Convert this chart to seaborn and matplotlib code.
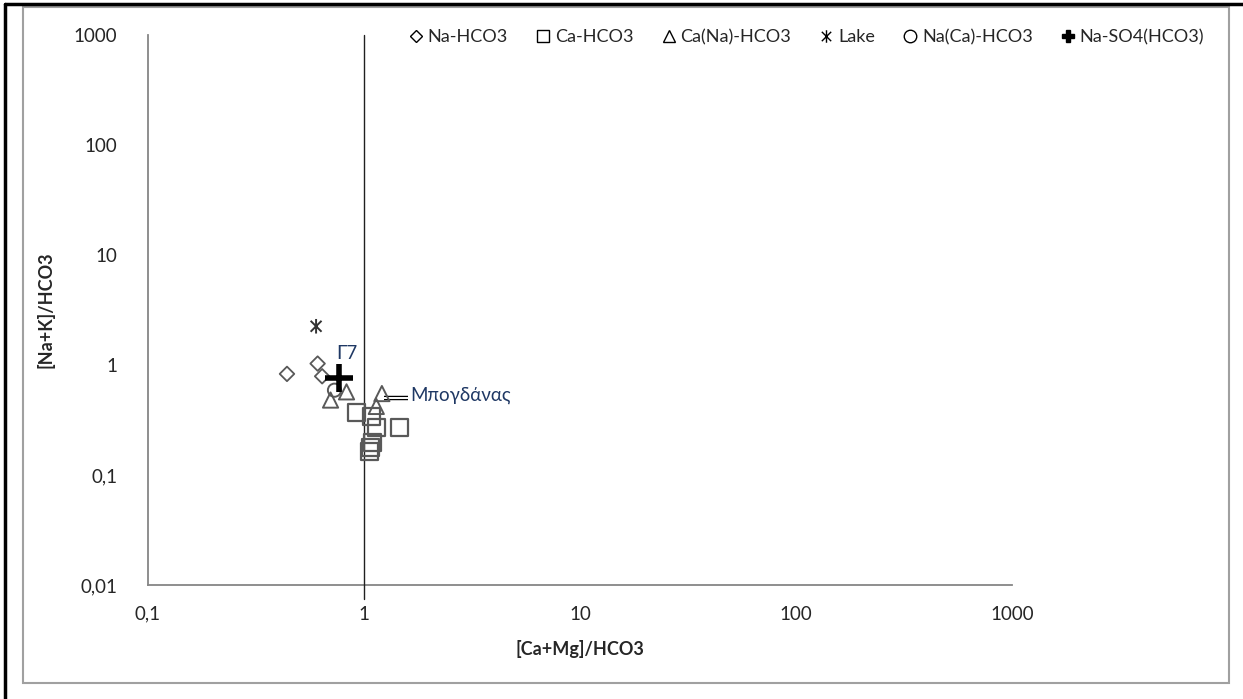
import numpy as np
import pandas as pd
import matplotlib
matplotlib.use("Agg")
import matplotlib.pyplot as plt
import seaborn as sns
from matplotlib.lines import Line2D
from matplotlib.patches import Rectangle
from matplotlib.path import Path

# water types and their ratios [Ca+Mg]/HCO3 (x) and [Na+K]/HCO3 (y)
na_hco3_x = [0.44, 0.61, 0.64]
na_hco3_y = [0.83, 1.03, 0.79]
ca_hco3_x = [0.92, 1.08, 1.14, 1.46, 1.10, 1.06, 1.07]
ca_hco3_y = [0.37, 0.34, 0.27, 0.27, 0.197, 0.165, 0.178]
ca_na_hco3_x = [0.70, 0.83, 1.21, 1.14]
ca_na_hco3_y = [0.48, 0.57, 0.55, 0.42]
lake_x = [0.60]
lake_y = [2.25]
na_ca_hco3_x = [0.73]
na_ca_hco3_y = [0.59]
na_so4_x = [0.77]
na_so4_y = [0.76]

tick_vals = [0.01, 0.1, 1, 10, 100, 1000]
tick_labels = ["0,01", "0,1", "1", "10", "100", "1000"]

frames = []
for name, xs, ys in [("Na-HCO3", na_hco3_x, na_hco3_y),
                     ("Ca-HCO3", ca_hco3_x, ca_hco3_y),
                     ("Ca(Na)-HCO3", ca_na_hco3_x, ca_na_hco3_y),
                     ("Lake", lake_x, lake_y),
                     ("Na(Ca)-HCO3", na_ca_hco3_x, na_ca_hco3_y),
                     ("Na-SO4(HCO3)", na_so4_x, na_so4_y)]:
    frames.append(pd.DataFrame({"x": xs, "y": ys, "type": name}))
df = pd.concat(frames, ignore_index=True)

sns.set_style("white")
plt.rcParams['font.family'] = ['Lato', 'DejaVu Sans']

# excel style star: X with a vertical bar
star = Path([(0, -1), (0, 1), (-0.75, -0.75), (0.75, 0.75), (-0.75, 0.75), (0.75, -0.75)],
            [Path.MOVETO, Path.LINETO, Path.MOVETO, Path.LINETO, Path.MOVETO, Path.LINETO])

fig = plt.figure(figsize=(12.43, 6.99), dpi=100)
ax = fig.add_axes([148 / 1243, 1 - 585 / 699, (1012 - 148) / 1243, (585 - 35) / 699])

grey = "#595959"
styles = {
    "Na-HCO3": dict(marker="D", s=55, facecolor="none", edgecolor=grey, linewidth=1.3),
    "Ca-HCO3": dict(marker="s", s=150, facecolor="none", edgecolor=grey, linewidth=1.6),
    "Ca(Na)-HCO3": dict(marker="^", s=120, facecolor="none", edgecolor=grey, linewidth=1.4),
    "Lake": dict(marker=star, s=110, facecolor="none", edgecolor="#333333", linewidth=1.4),
    "Na(Ca)-HCO3": dict(marker="o", s=90, facecolor="none", edgecolor=grey, linewidth=1.4),
}

for name, sub in df.groupby("type", sort=False):
    if name == "Na-SO4(HCO3)":
        sns.scatterplot(data=sub, x="x", y="y", ax=ax, marker="+", s=380,
                        color="black", linewidth=4, zorder=5, legend=False)
    else:
        sns.scatterplot(data=sub, x="x", y="y", ax=ax, legend=False, zorder=4, **styles[name])

# vertical line at ratio = 1
ax.plot([1, 1], [0.0075, 1000], color="#202020", linewidth=1.0, clip_on=False, zorder=3)

ax.set_xscale("log")
ax.set_yscale("log")
ax.set_xlim(0.1, 1000)
ax.set_ylim(0.01, 1000)
ax.set_xticks(tick_vals[1:])
ax.set_xticklabels(tick_labels[1:])
ax.set_yticks(tick_vals)
ax.set_yticklabels(tick_labels)
ax.minorticks_off()
ax.tick_params(axis="both", length=0, labelsize=13.5, colors="#262626")
ax.tick_params(axis="y", pad=22)
ax.tick_params(axis="x", pad=15)
for s in ["top", "right"]:
    ax.spines[s].set_visible(False)
for s in ["left", "bottom"]:
    ax.spines[s].set_color("#868686")
    ax.spines[s].set_linewidth(1.3)

ax.set_xlabel("[Ca+Mg]/HCO3", fontsize=13, fontweight="bold")
ax.set_ylabel("[Na+K]/HCO3", fontsize=13, fontweight="bold")
ax.xaxis.set_label_coords(0.5, -0.1)
ax.yaxis.set_label_coords(-0.108, 0.5)

# annotations
ax.text(0.745, 1.06, "Γ7", fontsize=13.5, color="#1f3864", ha="left", va="bottom")
ax.plot([1.24, 1.6], [0.50, 0.50], color="black", linewidth=3.2, solid_capstyle="butt", zorder=2)
ax.plot([1.24, 1.6], [0.50, 0.50], color="white", linewidth=1.4, solid_capstyle="butt", zorder=2)
ax.text(1.64, 0.53, "Μπογδάνας", fontsize=13.5, color="#1f3864", ha="left", va="center")

# legend
handles = [
    Line2D([], [], linestyle="none", marker="D", markersize=6, markerfacecolor="none", markeredgecolor="black"),
    Line2D([], [], linestyle="none", marker="s", markersize=9, markerfacecolor="none", markeredgecolor="black"),
    Line2D([], [], linestyle="none", marker="^", markersize=9, markerfacecolor="none", markeredgecolor="black"),
    Line2D([], [], linestyle="none", marker=star, markersize=9, markerfacecolor="none", markeredgecolor="black"),
    Line2D([], [], linestyle="none", marker="o", markersize=9, markerfacecolor="none", markeredgecolor="black"),
    Line2D([], [], linestyle="none", marker="P", markersize=9, color="black"),
]
labels = ["Na-HCO3", "Ca-HCO3", "Ca(Na)-HCO3", "Lake", "Na(Ca)-HCO3", "Na-SO4(HCO3)"]
fig.legend(handles, labels, loc="center left", bbox_to_anchor=(398 / 1243, 1 - 37 / 699),
           ncol=6, frameon=False, fontsize=13, handletextpad=0.15, columnspacing=1.45,
           handlelength=1.0, borderpad=0)

# chart frame
fig.patches.append(Rectangle((23 / 1243, 1 - 683 / 699), (1229 - 23) / 1243, (683 - 7) / 699,
                             transform=fig.transFigure, fill=False, edgecolor="#a0a0a0", linewidth=1.5))
fig.lines.append(Line2D([5 / 1243, 5 / 1243], [0, 1 - 4 / 699], transform=fig.transFigure,
                        color="black", linewidth=2.5))
fig.lines.append(Line2D([5 / 1243, 1], [1 - 4 / 699, 1 - 4 / 699], transform=fig.transFigure,
                        color="black", linewidth=2.5))

fig.savefig("out.png", dpi=100)
